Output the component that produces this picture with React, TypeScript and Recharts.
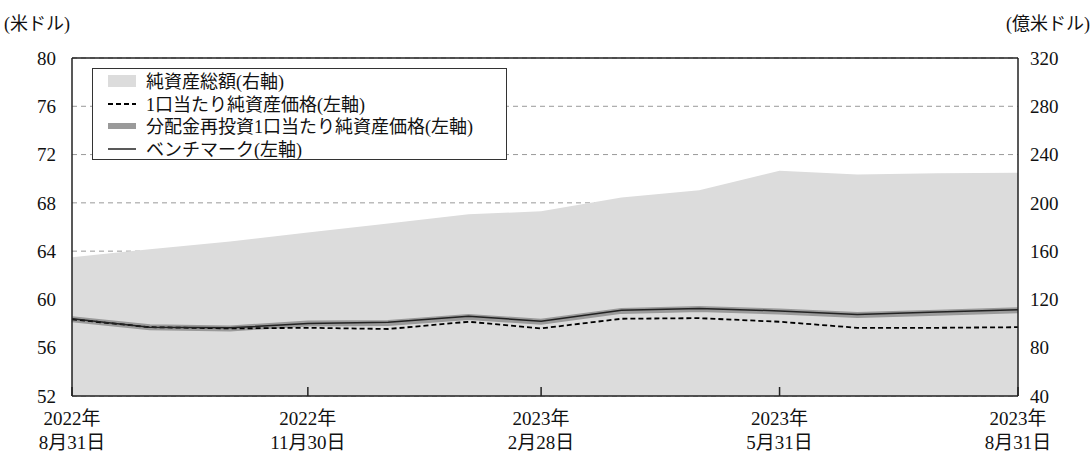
import * as React from "react";
import {
  ComposedChart,
  Area,
  Line,
  XAxis,
  YAxis,
  CartesianGrid,
  ReferenceLine,
  Legend,
} from "recharts";

if (typeof document !== "undefined") document.body.style.margin = "0";

const LATIN = "Liberation Serif";
const CJK = "Noto Sans CJK JP";

// month-end dates
const dates = [
  "2022-08-31", "2022-09-30", "2022-10-31", "2022-11-30", "2022-12-31",
  "2023-01-31", "2023-02-28", "2023-03-31", "2023-04-30", "2023-05-31",
  "2023-06-30", "2023-07-31", "2023-08-31",
];
// 純資産総額 (億米ドル, right axis)
const totalNetAssets = [155, 161.5, 168, 175.5, 183, 190.5, 193, 204.5, 210.5, 226.5, 223.5, 224.5, 225];
// 1口当たり純資産価格 (米ドル)
const navPerUnit = [58.35, 57.7, 57.6, 57.65, 57.55, 58.15, 57.6, 58.4, 58.45, 58.15, 57.65, 57.65, 57.7];
// 分配金再投資1口当たり純資産価格
const navReinvested = [58.35, 57.7, 57.6, 58.0, 58.05, 58.55, 58.15, 59.05, 59.2, 59.0, 58.7, 58.9, 59.1];
// ベンチマーク
const benchmark = [58.4, 57.7, 57.65, 58.0, 58.1, 58.6, 58.2, 59.1, 59.25, 59.05, 58.75, 58.95, 59.15];

const xTickDates = ["2022-08-31", "2022-11-30", "2023-02-28", "2023-05-31", "2023-08-31"];
const leftTicks = [52, 56, 60, 64, 68, 72, 76, 80];
const rightTicks = [40, 80, 120, 160, 200, 240, 280, 320];

const toTime = (d: string) => Date.parse(d + "T00:00:00Z");

const data = dates.map((d, i) => ({
  t: toTime(d),
  total: totalNetAssets[i],
  nav: navPerUnit[i],
  reinv: navReinvested[i],
  bench: benchmark[i],
}));

// split text into latin (digits, parens) and CJK runs so each gets its own font
const splitRuns = (s: string) => s.match(/[0-9()]+|[^0-9()]+/g) || [];
const isLatin = (r: string) => /^[0-9()]+$/.test(r);

const SvgMixed = ({ text }: { text: string }) => (
  <>
    {splitRuns(text).map((r, i) => (
      <tspan key={i} fontFamily={isLatin(r) ? LATIN : CJK}>
        {r}
      </tspan>
    ))}
  </>
);

const HtmlMixed = ({ text }: { text: string }) => (
  <>
    {splitRuns(text).map((r, i) => (
      <span key={i} style={{ fontFamily: isLatin(r) ? LATIN : CJK }}>
        {r}
      </span>
    ))}
  </>
);

const XTick = (props: any) => {
  const { x, y, payload } = props;
  const dt = new Date(payload.value);
  const yy = dt.getUTCFullYear();
  const mm = dt.getUTCMonth() + 1;
  const dd = dt.getUTCDate();
  return (
    <g>
      <line x1={x} x2={x} y1={y - 9} y2={y} stroke="#222" strokeWidth={1.5} />
      <text x={x} y={y + 29} textAnchor="middle" fontSize={19} fill="#111">
        <SvgMixed text={`${yy}年`} />
      </text>
      <text x={x} y={y + 53} textAnchor="middle" fontSize={19} fill="#111">
        <SvgMixed text={`${mm}月${dd}日`} />
      </text>
    </g>
  );
};

const legendItems = [
  { label: "純資産総額(右軸)", kind: "area" },
  { label: "1口当たり純資産価格(左軸)", kind: "dash" },
  { label: "分配金再投資1口当たり純資産価格(左軸)", kind: "thick" },
  { label: "ベンチマーク(左軸)", kind: "line" },
];

const Swatch = ({ kind }: { kind: string }) => (
  <svg width={28} height={14} style={{ display: "block" }}>
    {kind === "area" && <rect x={0} y={1} width={28} height={12} fill="#dcdcdc" />}
    {kind === "dash" && (
      <line x1={0} x2={28} y1={7} y2={7} stroke="#000" strokeWidth={2} strokeDasharray="5 3" />
    )}
    {kind === "thick" && <line x1={0} x2={28} y1={7} y2={7} stroke="#9a9a9a" strokeWidth={6} />}
    {kind === "line" && <line x1={0} x2={28} y1={7} y2={7} stroke="#222" strokeWidth={1.5} />}
  </svg>
);

const renderLegend = () => (
  <div
    style={{
      boxSizing: "border-box",
      width: 415,
      height: 92,
      border: "1px solid #333",
      background: "#fff",
      padding: "1px 0 0 15px",
      fontSize: 18,
      color: "#111",
    }}
  >
    {legendItems.map((it) => (
      <div key={it.label} style={{ display: "flex", alignItems: "center", height: 22.5 }}>
        <Swatch kind={it.kind} />
        <span style={{ marginLeft: 10, whiteSpace: "nowrap", lineHeight: "22px" }}>
          <HtmlMixed text={it.label} />
        </span>
      </div>
    ))}
  </div>
);

const tickStyle = { fontSize: 19, fill: "#111", fontFamily: LATIN };

export default function App() {
  return (
    <div style={{ position: "relative", width: 1092, height: 453, background: "#fff" }}>
      <div style={{ position: "absolute", left: 4, top: 9, fontSize: 18, color: "#111", whiteSpace: "nowrap" }}>
        <HtmlMixed text="(米ドル)" />
      </div>
      <div style={{ position: "absolute", right: 2, top: 9, fontSize: 18, color: "#111", whiteSpace: "nowrap" }}>
        <HtmlMixed text="(億米ドル)" />
      </div>
      <ComposedChart
        width={1092}
        height={453}
        data={data}
        margin={{ top: 58, right: 0, bottom: 0, left: 0 }}
      >
        <CartesianGrid
          yAxisId="left"
          horizontal={true}
          vertical={false}
          stroke="#999"
          strokeDasharray="5 4"
        />
        <XAxis
          dataKey="t"
          type="number"
          domain={["dataMin", "dataMax"]}
          ticks={xTickDates.map(toTime)}
          interval={0}
          height={57}
          tickSize={0}
          tickMargin={0}
          tickLine={false}
          tick={<XTick />}
          axisLine={{ stroke: "#222", strokeWidth: 1.5 }}
        />
        <YAxis
          yAxisId="left"
          orientation="left"
          domain={[52, 80]}
          ticks={leftTicks}
          width={72}
          tickSize={0}
          tickMargin={16}
          tickLine={false}
          axisLine={{ stroke: "#222", strokeWidth: 1.5 }}
          tick={tickStyle}
        />
        <YAxis
          yAxisId="right"
          orientation="right"
          domain={[40, 320]}
          ticks={rightTicks}
          width={74}
          tickSize={0}
          tickMargin={12}
          tickLine={false}
          axisLine={{ stroke: "#222", strokeWidth: 1.5 }}
          tick={tickStyle}
        />
        <Area
          yAxisId="right"
          dataKey="total"
          type="linear"
          fill="#dcdcdc"
          fillOpacity={1}
          stroke="none"
          isAnimationActive={false}
        />
        <ReferenceLine yAxisId="left" y={80} stroke="#222" strokeWidth={1.5} />
        <Line
          yAxisId="left"
          dataKey="reinv"
          type="linear"
          stroke="#9a9a9a"
          strokeWidth={6}
          dot={false}
          isAnimationActive={false}
        />
        <Line
          yAxisId="left"
          dataKey="nav"
          type="linear"
          stroke="#000"
          strokeWidth={1.8}
          strokeDasharray="5 3"
          dot={false}
          isAnimationActive={false}
        />
        <Line
          yAxisId="left"
          dataKey="bench"
          type="linear"
          stroke="#222"
          strokeWidth={1.5}
          dot={false}
          isAnimationActive={false}
        />
        <Legend
          layout="vertical"
          align="center"
          verticalAlign="middle"
          content={renderLegend}
          wrapperStyle={{ left: 92, top: 68, width: "auto", height: "auto" }}
        />
      </ComposedChart>
    </div>
  );
}
